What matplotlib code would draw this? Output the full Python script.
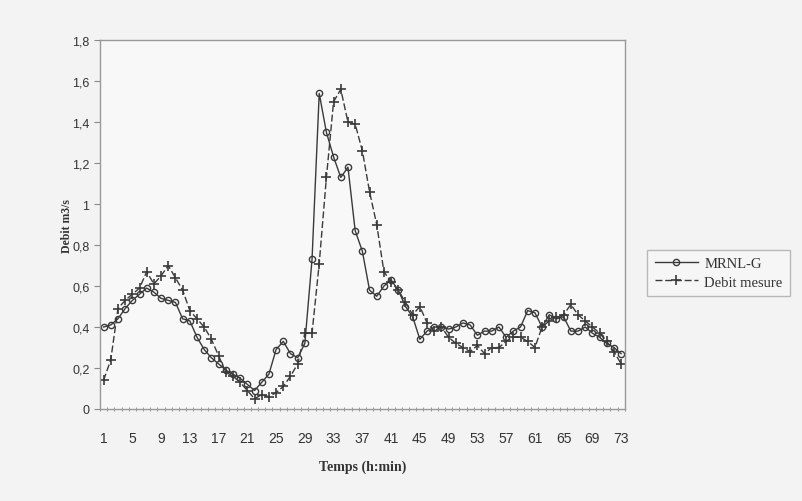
import matplotlib
matplotlib.use("Agg")
import matplotlib.pyplot as plt
from matplotlib.ticker import FuncFormatter

# time steps 1..73
temps = list(range(1, 74))

# MRNL-G model output (m3/s)
mrnl_g = [0.40, 0.41, 0.44, 0.49, 0.53, 0.56, 0.59, 0.57, 0.54, 0.53,
          0.52, 0.44, 0.43, 0.35, 0.29, 0.25, 0.22, 0.19, 0.17, 0.15,
          0.12, 0.09, 0.13, 0.17, 0.29, 0.33, 0.27, 0.25, 0.32, 0.73,
          1.54, 1.35, 1.23, 1.13, 1.18, 0.87, 0.77, 0.58, 0.55, 0.60,
          0.63, 0.58, 0.50, 0.45, 0.34, 0.38, 0.40, 0.40, 0.39, 0.40,
          0.42, 0.41, 0.36, 0.38, 0.38, 0.40, 0.35, 0.38, 0.40, 0.48,
          0.47, 0.40, 0.46, 0.44, 0.45, 0.38, 0.38, 0.40, 0.37, 0.35,
          0.32, 0.30, 0.27]

# measured discharge (m3/s)
debit_mesure = [0.14, 0.24, 0.49, 0.53, 0.56, 0.59, 0.67, 0.61, 0.65, 0.70,
                0.64, 0.58, 0.48, 0.44, 0.40, 0.34, 0.26, 0.18, 0.16, 0.13,
                0.09, 0.05, 0.07, 0.06, 0.08, 0.11, 0.16, 0.22, 0.37, 0.37,
                0.71, 1.13, 1.50, 1.56, 1.40, 1.39, 1.26, 1.06, 0.90, 0.67,
                0.62, 0.58, 0.52, 0.46, 0.50, 0.42, 0.38, 0.40, 0.35, 0.32,
                0.30, 0.28, 0.31, 0.27, 0.30, 0.30, 0.33, 0.35, 0.35, 0.33,
                0.30, 0.40, 0.43, 0.45, 0.46, 0.51, 0.46, 0.43, 0.40, 0.37,
                0.33, 0.28, 0.22]

y_ticks = [0, 0.2, 0.4, 0.6, 0.8, 1.0, 1.2, 1.4, 1.6, 1.8]
x_labels = list(range(1, 74, 4))

fig = plt.figure(figsize=(8.03, 5.02), dpi=100)
fig.patch.set_facecolor('#f3f3f3')
ax = fig.add_axes([0.1245, 0.1833, 0.6535, 0.7347])
ax.set_facecolor('#f8f8f8')

ax.plot(temps, mrnl_g, color='#3a3a3a', lw=1.0, marker='o', ms=4.5,
        mfc='none', mec='#3a3a3a', mew=1.0, label='MRNL-G')
ax.plot(temps, debit_mesure, color='#3a3a3a', lw=1.0, ls=(0, (5, 2)),
        marker='+', ms=6.5, mew=1.2, label='Debit mesure')

ax.set_xlim(0.5, 73.5)
ax.set_ylim(0, 1.8)
ax.set_yticks(y_ticks)
ax.yaxis.set_major_formatter(FuncFormatter(
    lambda v, p: ('%g' % round(v, 1)).replace('.', ',')))
ax.set_xticks(x_labels)
ax.set_xticks([i + 0.5 for i in range(0, 74)], minor=True)
ax.tick_params(axis='x', which='major', length=0, pad=16,
               labelsize=10, colors='#333333')
ax.tick_params(axis='x', which='minor', length=3, direction='inout',
               color='#888888')
ax.tick_params(axis='y', length=4, direction='out', labelsize=9,
               colors='#333333', color='#888888')
for lbl in ax.get_xticklabels() + ax.get_yticklabels():
    lbl.set_family('Liberation Sans')

for s in ax.spines.values():
    s.set_color('#999999')
    s.set_linewidth(1.0)

ax.set_xlabel('Temps (h:min)', family='Liberation Serif', fontweight='bold',
              fontsize=10, color='#333333', labelpad=10)
ax.set_ylabel('Debit m3/s', family='Liberation Serif', fontweight='bold',
              fontsize=8.5, color='#333333')
ax.yaxis.set_label_coords(-0.052, 0.5)

leg = fig.legend(loc='upper left', bbox_to_anchor=(0.797, 0.515),
                 prop={'family': 'Liberation Serif', 'size': 10.5},
                 frameon=True, fancybox=False, handlelength=3,
                 borderpad=0.5, labelspacing=0.35, handletextpad=0.4)
leg.get_frame().set_edgecolor('#aaaaaa')
leg.get_frame().set_facecolor('#f8f8f8')
for t in leg.get_texts():
    t.set_color('#333333')

fig.savefig('out.png', dpi=100, facecolor=fig.get_facecolor())
